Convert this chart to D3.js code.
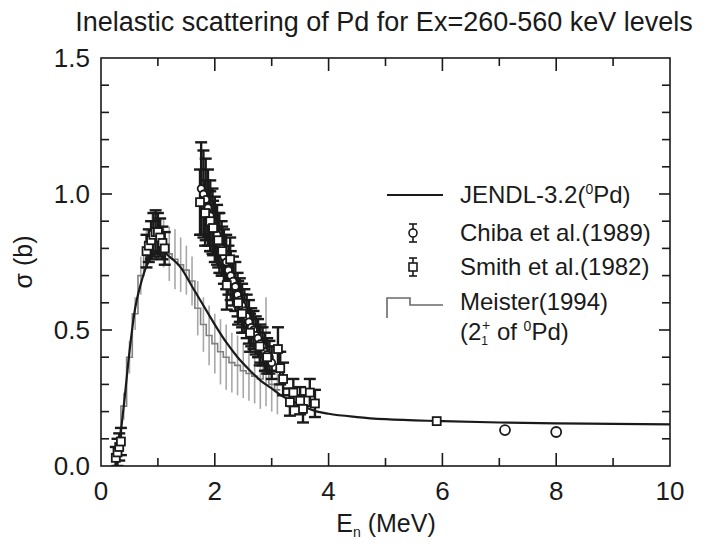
<!DOCTYPE html>
<html>
<head>
<meta charset="utf-8">
<script src="https://cdn.jsdelivr.net/npm/d3@7"></script>
<style>
  body { margin: 0; background: #fff; }
  svg { display: block; font-family: "Liberation Sans", Arial, Helvetica, sans-serif; }
</style>
</head>
<body>
<svg id="chart" width="706" height="544"></svg>
<script>
const titleText = "Inelastic scattering of Pd for Ex=260-560 keV levels";
const xTickValues = [0, 2, 4, 6, 8, 10];
const yTickValues = [0.0, 0.5, 1.0, 1.5];

// JENDL-3.2 evaluation (natural Pd)
const jendlE = [0.25, 0.3, 0.4, 0.5, 0.6, 0.7, 0.8, 0.9, 1.0, 1.1, 1.2, 1.4, 1.6, 1.8, 2.0, 2.2, 2.4, 2.6, 2.8, 3.0, 3.2, 3.4, 3.6, 3.8, 4.0, 4.5, 5.0, 6.0, 7.0, 8.0, 9.0, 10.0];
const jendlS = [0.0, 0.05, 0.22, 0.42, 0.58, 0.67, 0.735, 0.77, 0.785, 0.785, 0.77, 0.73, 0.66, 0.59, 0.52, 0.455, 0.40, 0.355, 0.315, 0.285, 0.255, 0.235, 0.215, 0.20, 0.192, 0.18, 0.172, 0.165, 0.16, 0.157, 0.155, 0.153];

// Meister (1994) histogram: bin edges, bin values, errors
const meisterEdges = [0.25, 0.35, 0.45, 0.55, 0.65, 0.75, 0.85, 0.95, 1.05, 1.15, 1.25, 1.35, 1.45, 1.55, 1.65, 1.75, 1.85, 1.95, 2.05, 2.15, 2.25, 2.35, 2.45, 2.55, 2.65, 2.75, 2.85, 2.95, 3.05, 3.15];
const meisterS   = [0.06, 0.22, 0.40, 0.56, 0.70, 0.80, 0.86, 0.85, 0.82, 0.78, 0.76, 0.74, 0.72, 0.68, 0.58, 0.52, 0.48, 0.45, 0.42, 0.40, 0.38, 0.37, 0.35, 0.34, 0.33, 0.32, 0.42, 0.30, 0.28];
const meisterErr = [0.05, 0.05, 0.06, 0.06, 0.07, 0.07, 0.07, 0.08, 0.09, 0.10, 0.11, 0.10, 0.09, 0.09, 0.10, 0.10, 0.11, 0.11, 0.12, 0.12, 0.11, 0.11, 0.10, 0.10, 0.10, 0.11, 0.20, 0.10, 0.09];

// Chiba et al. (1989)
const chibaE   = [1.76, 1.80, 1.84, 1.88, 1.92, 1.96, 2.00, 2.04, 2.08, 2.12, 2.16, 2.20, 2.24, 2.28, 2.32, 2.36, 2.40, 2.44, 2.48, 2.52, 2.56, 2.60, 2.64, 2.68, 2.72, 2.76, 2.80, 2.84, 2.88, 2.92, 2.96, 3.00, 7.1, 8.0];
const chibaS   = [1.02, 1.00, 0.98, 0.95, 0.92, 0.90, 0.87, 0.85, 0.82, 0.80, 0.77, 0.75, 0.72, 0.70, 0.68, 0.66, 0.63, 0.61, 0.59, 0.57, 0.55, 0.53, 0.51, 0.50, 0.48, 0.47, 0.45, 0.44, 0.42, 0.41, 0.40, 0.38, 0.132, 0.125];
const chibaErr = [0.17, 0.16, 0.15, 0.14, 0.13, 0.12, 0.12, 0.11, 0.11, 0.10, 0.10, 0.10, 0.09, 0.09, 0.09, 0.09, 0.08, 0.08, 0.08, 0.08, 0.08, 0.08, 0.07, 0.07, 0.07, 0.07, 0.07, 0.07, 0.07, 0.06, 0.06, 0.06, 0, 0];

// Smith et al. (1982)
const smithE   = [0.26, 0.29, 0.32, 0.35, 0.80, 0.84, 0.88, 0.92, 0.96, 1.00, 1.04, 1.08, 1.12, 1.74, 1.83, 1.92, 1.97, 2.06, 2.13, 2.21, 2.27, 2.41, 2.48, 2.62, 2.79, 2.92, 3.11, 3.15, 3.20, 3.32, 3.38, 3.50, 3.55, 3.67, 3.76, 5.9];
const smithS   = [0.03, 0.05, 0.07, 0.09, 0.79, 0.81, 0.83, 0.85, 0.86, 0.86, 0.84, 0.82, 0.80, 0.97, 0.93, 0.90, 0.875, 0.83, 0.79, 0.665, 0.76, 0.60, 0.56, 0.49, 0.44, 0.40, 0.43, 0.36, 0.32, 0.235, 0.27, 0.24, 0.21, 0.27, 0.23, 0.165];
const smithErr = [0.04, 0.05, 0.05, 0.05, 0.06, 0.06, 0.07, 0.08, 0.08, 0.07, 0.07, 0.06, 0.06, 0.12, 0.12, 0.11, 0.10, 0.10, 0.09, 0.09, 0.08, 0.08, 0.07, 0.07, 0.07, 0.06, 0.08, 0.06, 0.06, 0.05, 0.05, 0.05, 0.05, 0.05, 0.05, 0];

const ink = "#1a1a1a";
const grey = "#a8a8a8";

const svg = d3.select("#chart");
const plot = { left: 101, right: 670, top: 58, bottom: 466 };

const x = d3.scaleLinear().domain([0, 10]).range([plot.left, plot.right]);
const y = d3.scaleLinear().domain([0, 1.5]).range([plot.bottom, plot.top]);

// Title
svg.append("text")
    .attr("x", 384).attr("y", 31)
    .attr("text-anchor", "middle")
    .attr("font-size", 27)
    .attr("fill", ink)
    .text(titleText);

// Clip for data
svg.append("clipPath").attr("id", "clip")
  .append("rect")
    .attr("x", plot.left).attr("y", plot.top)
    .attr("width", plot.right - plot.left).attr("height", plot.bottom - plot.top);

const data = svg.append("g").attr("clip-path", "url(#clip)");

// Meister histogram
const meisterPts = meisterS.map((v, i) => [meisterEdges[i], v]);
meisterPts.push([meisterEdges[meisterEdges.length - 1], meisterS[meisterS.length - 1]]);
const stepLine = d3.line().x(d => x(d[0])).y(d => y(d[1])).curve(d3.curveStepAfter);

data.append("g")
    .selectAll("line")
    .data(meisterS.map((v, i) => ({ e: (meisterEdges[i] + meisterEdges[i + 1]) / 2, s: v, err: meisterErr[i] })))
    .join("line")
    .attr("x1", d => x(d.e)).attr("x2", d => x(d.e))
    .attr("y1", d => y(d.s - d.err)).attr("y2", d => y(d.s + d.err))
    .attr("stroke", grey).attr("stroke-width", 1.6);

data.append("path")
    .attr("d", stepLine(meisterPts))
    .attr("fill", "none")
    .attr("stroke", "#808080")
    .attr("stroke-width", 1.6);

// Error bars with caps
function errorBars(g, E, S, Err) {
    const pts = E.map((e, i) => ({ e, s: S[i], err: Err[i] })).filter(d => d.err > 0);
    const gg = g.append("g").attr("stroke", ink).attr("stroke-width", 2.4);
    gg.selectAll("line.v").data(pts).join("line").attr("class", "v")
        .attr("x1", d => x(d.e)).attr("x2", d => x(d.e))
        .attr("y1", d => y(d.s - d.err)).attr("y2", d => y(d.s + d.err));
    gg.selectAll("line.t").data(pts).join("line").attr("class", "t")
        .attr("x1", d => x(d.e) - 6).attr("x2", d => x(d.e) + 6)
        .attr("y1", d => y(d.s + d.err)).attr("y2", d => y(d.s + d.err));
    gg.selectAll("line.b").data(pts).join("line").attr("class", "b")
        .attr("x1", d => x(d.e) - 6).attr("x2", d => x(d.e) + 6)
        .attr("y1", d => y(d.s - d.err)).attr("y2", d => y(d.s - d.err));
}

errorBars(data, chibaE, chibaS, chibaErr);
errorBars(data, smithE, smithS, smithErr);

// JENDL curve
const jendlLine = d3.line().x(d => x(d[0])).y(d => y(d[1])).curve(d3.curveMonotoneX);
data.append("path")
    .attr("d", jendlLine(jendlE.map((e, i) => [e, jendlS[i]])))
    .attr("fill", "none")
    .attr("stroke", ink)
    .attr("stroke-width", 2.2);

// Markers
data.append("g").selectAll("circle")
    .data(chibaE.map((e, i) => [e, chibaS[i]]))
    .join("circle")
    .attr("cx", d => x(d[0])).attr("cy", d => y(d[1])).attr("r", d => d[0] > 5 ? 5 : 3.5)
    .attr("fill", "#fff").attr("stroke", ink).attr("stroke-width", 1.8);

data.append("g").selectAll("rect")
    .data(smithE.map((e, i) => [e, smithS[i]]))
    .join("rect")
    .attr("x", d => x(d[0]) - 4).attr("y", d => y(d[1]) - 4)
    .attr("width", 8).attr("height", 8)
    .attr("fill", "#fff").attr("stroke", ink).attr("stroke-width", 1.8);

// Axes: frame with inward ticks on all four sides
const axes = svg.append("g").attr("stroke", ink).attr("stroke-width", 1.6);
axes.append("rect")
    .attr("x", plot.left).attr("y", plot.top)
    .attr("width", plot.right - plot.left).attr("height", plot.bottom - plot.top)
    .attr("fill", "none");

const xMinor = d3.range(1, 10);
const yMinor = d3.range(1, 15).map(v => v / 10);

xMinor.forEach(v => {
    const len = v % 2 === 0 ? 13 : 8;
    axes.append("line").attr("x1", x(v)).attr("x2", x(v)).attr("y1", plot.bottom).attr("y2", plot.bottom - len);
    axes.append("line").attr("x1", x(v)).attr("x2", x(v)).attr("y1", plot.top).attr("y2", plot.top + len);
});
yMinor.forEach(v => {
    const len = Math.abs(v * 10 % 5) < 1e-6 ? 11 : 8;
    axes.append("line").attr("x1", plot.left).attr("x2", plot.left + len).attr("y1", y(v)).attr("y2", y(v));
    axes.append("line").attr("x1", plot.right).attr("x2", plot.right - len).attr("y1", y(v)).attr("y2", y(v));
});

// Tick labels
svg.append("g").selectAll("text")
    .data(xTickValues).join("text")
    .attr("x", d => x(d)).attr("y", 500)
    .attr("text-anchor", "middle")
    .attr("font-size", 26).attr("fill", ink)
    .text(d => d);

svg.append("g").selectAll("text")
    .data(yTickValues).join("text")
    .attr("x", 90).attr("y", d => y(d) + 9)
    .attr("text-anchor", "end")
    .attr("font-size", 26).attr("fill", ink)
    .text(d => d.toFixed(1));

// Axis titles
const xl = svg.append("text")
    .attr("x", 386).attr("y", 532)
    .attr("text-anchor", "middle")
    .attr("font-size", 25).attr("fill", ink);
xl.append("tspan").text("E");
xl.append("tspan").attr("font-size", 14).attr("dy", 5).text("n");
xl.append("tspan").attr("dy", -5).text(" (MeV)");

svg.append("text")
    .attr("transform", "translate(32,262) rotate(-90)")
    .attr("text-anchor", "middle")
    .attr("font-size", 25).attr("fill", ink)
    .text("σ (b)");

// Legend
const lg = svg.append("g").attr("font-size", 24).attr("fill", ink);
const lgText = 460;
const lgSym = 413;

lg.append("line").attr("x1", 387).attr("x2", 443).attr("y1", 195).attr("y2", 195)
    .attr("stroke", ink).attr("stroke-width", 2.2);
const t1 = lg.append("text").attr("x", lgText).attr("y", 203);
t1.append("tspan").text("JENDL-3.2(");
t1.append("tspan").attr("font-size", 14).attr("dy", -9).text("0");
t1.append("tspan").attr("dy", 9).text("Pd)");

function legendBar(cy) {
    lg.append("line").attr("x1", lgSym).attr("x2", lgSym).attr("y1", cy - 9).attr("y2", cy + 9)
        .attr("stroke", ink).attr("stroke-width", 1.6);
    lg.append("line").attr("x1", lgSym - 4).attr("x2", lgSym + 4).attr("y1", cy - 9).attr("y2", cy - 9)
        .attr("stroke", ink).attr("stroke-width", 1.6);
    lg.append("line").attr("x1", lgSym - 4).attr("x2", lgSym + 4).attr("y1", cy + 9).attr("y2", cy + 9)
        .attr("stroke", ink).attr("stroke-width", 1.6);
}
legendBar(233);
lg.append("circle").attr("cx", lgSym).attr("cy", 233).attr("r", 4)
    .attr("fill", "#fff").attr("stroke", ink).attr("stroke-width", 1.6);
lg.append("text").attr("x", lgText).attr("y", 241).text("Chiba et al.(1989)");

legendBar(267);
lg.append("rect").attr("x", lgSym - 4).attr("y", 263).attr("width", 8).attr("height", 8)
    .attr("fill", "#fff").attr("stroke", ink).attr("stroke-width", 1.6);
lg.append("text").attr("x", lgText).attr("y", 275).text("Smith et al.(1982)");

lg.append("path").attr("d", "M387,318V298H410V305H443")
    .attr("fill", "none").attr("stroke", "#6a6a6a").attr("stroke-width", 1.6);
lg.append("text").attr("x", lgText).attr("y", 310).text("Meister(1994)");
const t4 = lg.append("text").attr("x", lgText).attr("y", 340);
t4.append("tspan").text("(2");
t4.append("tspan").attr("font-size", 12).attr("dy", 5).text("1");
t4.append("tspan").attr("font-size", 14).attr("dx", -6).attr("dy", -15).text("+");
t4.append("tspan").attr("dy", 10).text(" of ");
t4.append("tspan").attr("font-size", 14).attr("dy", -9).text("0");
t4.append("tspan").attr("dy", 9).text("Pd)");
</script>
</body>
</html>
